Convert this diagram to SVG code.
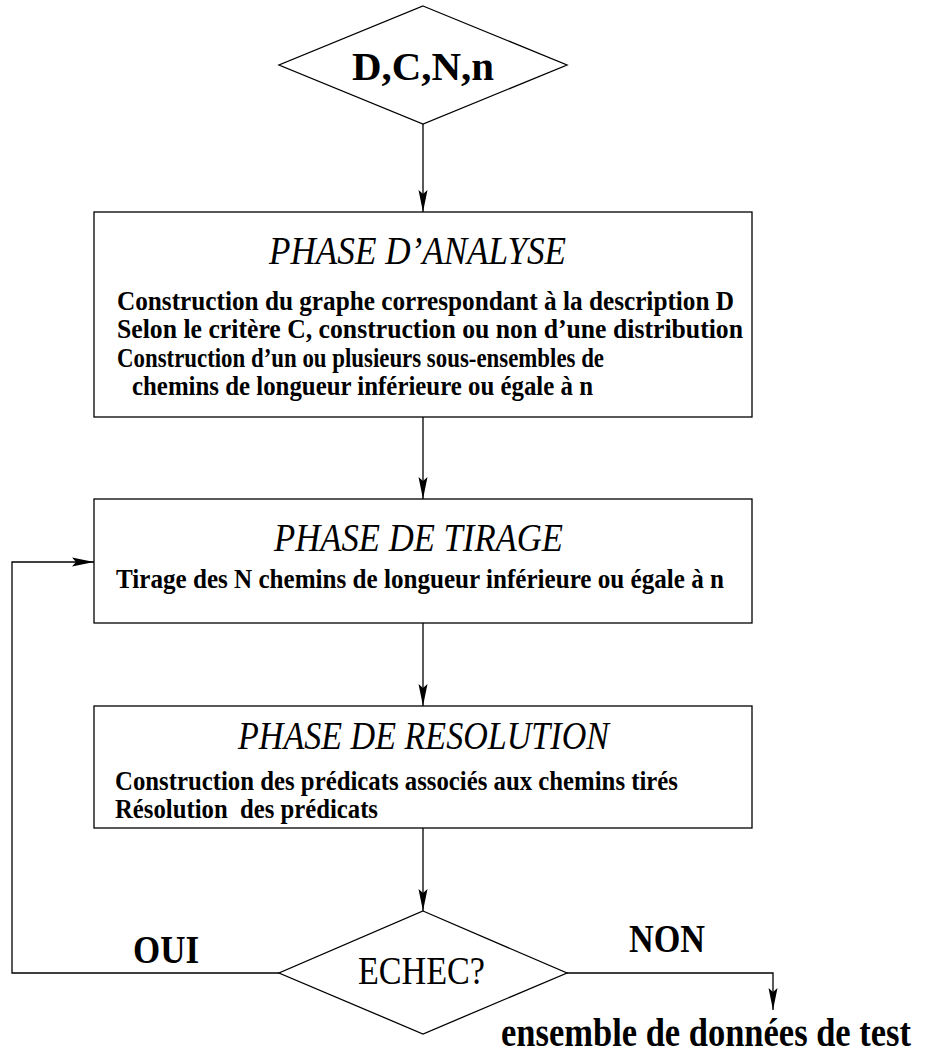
<svg xmlns="http://www.w3.org/2000/svg" width="925" height="1062" viewBox="0 0 925 1062">
  <style>
    .shape { fill: #fff; stroke: #000; stroke-width: 1.3; }
    .wire { fill: none; stroke: #000; stroke-width: 1.3; }
    .title { font-family: "Liberation Serif", "Times New Roman", serif; font-style: italic; font-size: 40px; fill: #000; }
    .body { font-family: "Liberation Serif", "Times New Roman", serif; font-weight: bold; font-size: 28px; fill: #000; }
    .big { font-family: "Liberation Serif", "Times New Roman", serif; font-weight: bold; font-size: 40px; fill: #000; }
    .plain { font-family: "Liberation Serif", "Times New Roman", serif; font-size: 40px; fill: #000; }
  </style>
  <defs>
    <marker id="arrow" viewBox="-24 -6 26 12" refX="0" refY="0" markerWidth="26" markerHeight="12" markerUnits="userSpaceOnUse" orient="auto">
      <path d="M0,0 L-22,-4.5 L-18,0 L-22,4.5 Z" fill="#000"/>
    </marker>
  </defs>

  <rect width="925" height="1062" fill="#fff"/>

  <!-- connectors -->
  <g id="connectors">
    <line class="wire" x1="423" y1="124" x2="423" y2="212" marker-end="url(#arrow)"/>
    <line class="wire" x1="423" y1="417" x2="423" y2="499" marker-end="url(#arrow)"/>
    <line class="wire" x1="423" y1="623" x2="423" y2="706" marker-end="url(#arrow)"/>
    <line class="wire" x1="423" y1="828" x2="423" y2="911" marker-end="url(#arrow)"/>
    <polyline class="wire" points="279,973 12,973 12,562 94,562" marker-end="url(#arrow)"/>
    <polyline class="wire" points="567,973 773,973 773,1010" marker-end="url(#arrow)"/>
  </g>

  <!-- input parameters -->
  <g id="inputs">
    <polygon class="shape" points="423,6 567,65 423,124 279,65"/>
    <text class="big" x="423" y="80" text-anchor="middle" font-size="48" textLength="142" lengthAdjust="spacingAndGlyphs">D,C,N,n</text>
  </g>

  <!-- analysis phase -->
  <g id="analyse">
    <rect class="shape" x="94" y="212" width="658" height="205"/>
    <text class="title" x="269" y="264" textLength="297" lengthAdjust="spacingAndGlyphs">PHASE D’ANALYSE</text>
    <text class="body" x="117" y="310" textLength="617" lengthAdjust="spacingAndGlyphs">Construction du graphe correspondant à la description D</text>
    <text class="body" x="117" y="338" textLength="626" lengthAdjust="spacingAndGlyphs">Selon le critère C, construction ou non d’une distribution</text>
    <text class="body" x="117" y="367" textLength="487" lengthAdjust="spacingAndGlyphs">Construction d’un ou plusieurs sous-ensembles de</text>
    <text class="body" x="132" y="395" textLength="461" lengthAdjust="spacingAndGlyphs">chemins de longueur inférieure ou égale à n</text>
  </g>

  <!-- drawing phase -->
  <g id="tirage">
    <rect class="shape" x="94" y="499" width="658" height="124"/>
    <text class="title" x="274" y="551" textLength="289" lengthAdjust="spacingAndGlyphs">PHASE DE TIRAGE</text>
    <text class="body" x="116" y="588" textLength="608" lengthAdjust="spacingAndGlyphs">Tirage des N chemins de longueur inférieure ou égale à n</text>
  </g>

  <!-- resolution phase -->
  <g id="resolution">
    <rect class="shape" x="94" y="706" width="658" height="122"/>
    <text class="title" x="238" y="749" textLength="371" lengthAdjust="spacingAndGlyphs">PHASE DE RESOLUTION</text>
    <text class="body" x="115" y="790" textLength="563" lengthAdjust="spacingAndGlyphs">Construction des prédicats associés aux chemins tirés</text>
    <text class="body" x="115" y="818" textLength="263" lengthAdjust="spacingAndGlyphs" xml:space="preserve">Résolution  des prédicats</text>
  </g>

  <!-- failure test -->
  <g id="echec">
    <polygon class="shape" points="423,911 567,973 423,1034 279,973"/>
    <text class="plain" x="358" y="984" textLength="127" lengthAdjust="spacingAndGlyphs">ECHEC?</text>
  </g>

  <g id="labels">
    <text class="big" x="133" y="963" textLength="66" lengthAdjust="spacingAndGlyphs">OUI</text>
    <text class="big" x="629" y="952" textLength="76" lengthAdjust="spacingAndGlyphs">NON</text>
  </g>

  <g id="result">
    <text class="big" x="501" y="1046" font-size="37" textLength="410" lengthAdjust="spacingAndGlyphs">ensemble de données de test</text>
  </g>
</svg>
